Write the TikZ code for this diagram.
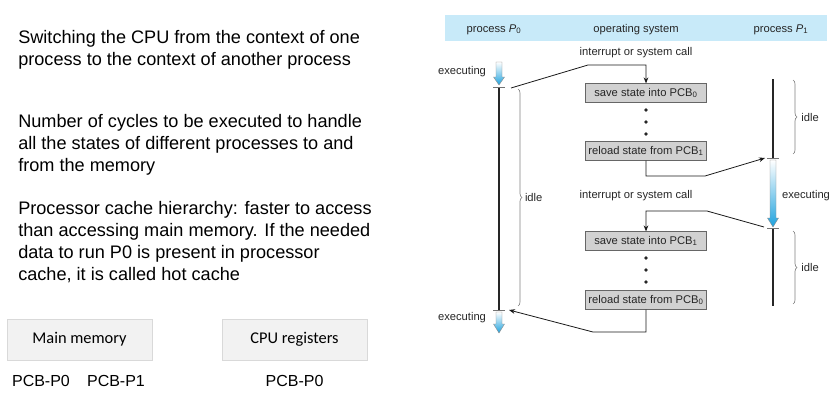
\documentclass[tikz,border=0pt]{standalone}
\usepackage{fontspec}
\setmainfont{Liberation Sans}
\newfontfamily\calibri{Carlito}
\usetikzlibrary{arrows.meta,decorations.pathreplacing}

\definecolor{hdrblue}{RGB}{200,234,249}
\definecolor{arrowblue}{RGB}{30,162,222}

\begin{document}
\begin{tikzpicture}[x=0.75pt,y=-0.75pt]
\tikzstyle{para}=[anchor=base west, align=left, inner sep=0pt, font=\fontsize{13.6}{16.3}\selectfont]
\tikzstyle{mem}=[draw=black!15, fill=black!5, minimum width=108.75pt, minimum height=30.75pt, inner sep=0pt, font=\calibri\fontsize{12.3}{14}\selectfont]
\tikzstyle{pcbtxt}=[anchor=base, inner sep=0pt, font=\fontsize{12}{14}\selectfont]
\tikzstyle{lbl}=[anchor=base, inner sep=0pt, text=black!85, font=\fontsize{8.4}{10}\selectfont]
\tikzstyle{pcb}=[draw=black!60, fill=black!18, minimum width=90.75pt, minimum height=14pt, inner sep=0pt, text=black!85, font=\fontsize{8.4}{10}\selectfont]
\tikzstyle{timeline}=[line width=2pt, black!85]
\tikzstyle{tick}=[black!55, line width=0.5pt]
\tikzstyle{conn}=[black!90, line width=0.6pt, -{Stealth[length=4.5pt,width=3.5pt]}]
\tikzstyle{idlebrace}=[black!50, line width=0.5pt, decorate, decoration={brace,amplitude=3pt}]
\tikzstyle{runarrow}=[top color=white, bottom color=arrowblue, draw=black!45, line width=0.3pt]
\useasboundingbox (0,0) rectangle (835,400);

% left hand notes (base is the last line)
\node[para] (switch) at (18,65.7) {Switching the CPU from the context of one\\process to the context of another process};
\node[para] (cycles) at (18,171.4) {Number of cycles to be executed to handle\\all the states of different processes to and\\from the memory};
\node[para] (cache) at (18,280) {Processor cache hierarchy: faster to access\\than accessing main memory. If the needed\\data to run P0 is present in processor\\cache, it is called hot cache};

\node[mem] (mainmem) at (79.5,339.5) {Main memory};
\node[mem] (cpureg) at (294.5,339.5) {CPU registers};
\node[pcbtxt] (memp0) at (41,386) {PCB-P0};
\node[pcbtxt] (memp1) at (116,386) {PCB-P1};
\node[pcbtxt] (regp0) at (294.5,386) {PCB-P0};

% header band
\fill[hdrblue] (445,15) rectangle (827,41);
\node[lbl] (hp0) at (494,32) {process {\itshape P}\textsubscript{0}};
\node[lbl] (hos) at (636,32) {operating system};
\node[lbl] (hp1) at (781,32) {process {\itshape P}\textsubscript{1}};

% operating system boxes
\node[pcb] (save0) at (646,93) {save state into PCB\textsubscript{0}};
\node[pcb] (reload1) at (646,151) {reload state from PCB\textsubscript{1}};
\node[pcb] (save1) at (646,241) {save state into PCB\textsubscript{1}};
\node[pcb] (reload0) at (646,300) {reload state from PCB\textsubscript{0}};
\fill[black!85] (646,110) circle (1.8) (646,122) circle (1.8) (646,134) circle (1.8);
\fill[black!85] (646,258) circle (1.8) (646,270) circle (1.8) (646,282) circle (1.8);

\node[lbl] (irq0) at (636,55) {interrupt or system call};
\node[lbl] (irq1) at (636,198) {interrupt or system call};
\node[lbl] (exec0) at (462,74) {executing};
\node[lbl] (exec1) at (806,198) {executing};
\node[lbl] (exec2) at (462,320) {executing};

% time lines
\coordinate (p0top) at (499,87);
\coordinate (p0bot) at (499,310);
\coordinate (p1a) at (773,79);
\coordinate (p1b) at (773,158);
\coordinate (p1c) at (773,228);
\coordinate (p1d) at (773,306);
\draw[timeline] (p0top) -- (p0bot);
\draw[timeline] (p1a) -- (p1b);
\draw[timeline] (p1c) -- (p1d);
\draw[tick] (493,87) -- (505,87);
\draw[tick] (493,310) -- (505,310);
\draw[tick] (767,158) -- (779,158);
\draw[tick] (767,228) -- (779,228);

% running arrows
\shade[runarrow] (496,62) -- (502,62) -- (502,77) -- (504.5,77) -- (499,85) -- (493.5,77) -- (496,77) -- cycle;
\shade[runarrow] (770,160) -- (776,160) -- (776,218) -- (778.5,218) -- (773,227) -- (767.5,218) -- (770,218) -- cycle;
\shade[runarrow] (496,312) -- (502,312) -- (502,324) -- (504.5,324) -- (499,333) -- (493.5,324) -- (496,324) -- cycle;

% idle braces
\draw[idlebrace] (518,89) -- (518,306) node[lbl, midway, anchor=west, xshift=5pt] (idle0) {idle};
\draw[idlebrace] (793,80) -- (793,154) node[lbl, midway, anchor=west, xshift=6pt] (idle1) {idle};
\draw[idlebrace] (793,231) -- (793,304) node[lbl, midway, anchor=west, xshift=6pt] (idle2) {idle};

% switches
\coordinate (p0out) at (511,88);
\coordinate (p1in) at (765,158);
\coordinate (p1out) at (764,227);
\coordinate (p0in) at (509,310);
\draw[conn] (p0out) -- (588,65) -| (save0.north);
\draw[conn] (reload1.south) |- (705,176) -- (p1in);
\draw[conn] (p1out) -- (707,211) -| (save1.north);
\draw[conn] (reload0.south) |- (593,332) -- (p0in);
\end{tikzpicture}
\end{document}
